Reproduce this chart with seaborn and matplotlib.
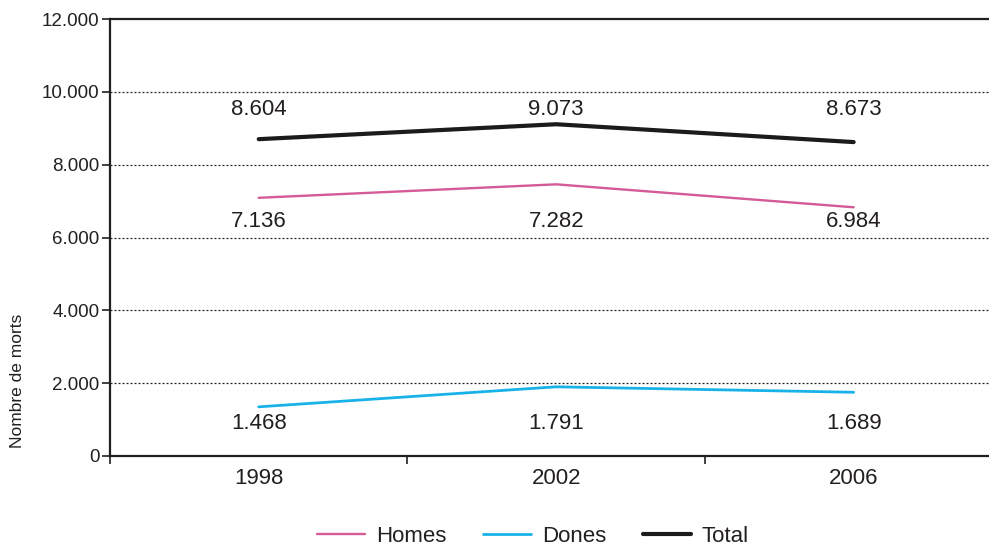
import matplotlib
matplotlib.use("Agg")
import matplotlib.pyplot as plt
from matplotlib.ticker import FuncFormatter, FixedLocator
import seaborn as sns
import pandas as pd

# ---- data ----
years = ["1998", "2002", "2006"]
series_names = ["Homes", "Dones", "Total"]
homes = [7090, 7460, 6830]
dones = [1350, 1900, 1750]
total = [8700, 9110, 8620]
homes_labels = ["7.136", "7.282", "6.984"]
dones_labels = ["1.468", "1.791", "1.689"]
total_labels = ["8.604", "9.073", "8.673"]
y_ticks = [0, 2000, 4000, 6000, 8000, 10000, 12000]

sns.set_theme(style="white")
plt.rcParams["font.family"] = ["Liberation Sans", "DejaVu Sans"]
ink = "#231f20"

idx = list(range(len(years)))
df = pd.DataFrame({
    "x": idx * 3,
    "value": homes + dones + total,
    "serie": [s for s in series_names for _ in years],
})

fig = plt.figure(figsize=(9.89, 5.47), dpi=100)
ax = fig.add_axes([110 / 989, 1 - 456 / 547, 1 - 110 / 989, (456 - 19) / 547])

styles = {
    "Homes": dict(color="#d45a98", lw=1.7),
    "Dones": dict(color="#19b2e8", lw=2.0),
    "Total": dict(color="#1c1a1a", lw=3.0),
}
for name in series_names:
    sub = df[df["serie"] == name]
    sns.lineplot(data=sub, x="x", y="value", ax=ax, color=styles[name]["color"],
                 linewidth=styles[name]["lw"], label=name, legend=False)

# value labels at fixed heights
label_rows = [(total_labels, 9520), (homes_labels, 6450), (dones_labels, 880)]
for labels, yh in label_rows:
    for i, t in enumerate(labels):
        ax.text(i, yh, t, ha="center", va="center", fontsize=16, color=ink)

ax.yaxis.set_major_locator(FixedLocator(y_ticks))
ax.yaxis.set_major_formatter(FuncFormatter(lambda v, p: f"{v:,.0f}".replace(",", ".")))
ax.set_xticks(idx)
ax.set_xticklabels(years)
ax.set_xticks([-0.5, 0.5, 1.5, 2.5], minor=True)
ax.set_ylim(0, 12000)
ax.set_xlim(-0.5, 2.455)
ax.tick_params(axis="x", which="major", length=0, pad=9, labelsize=16, labelcolor=ink, bottom=True)
ax.tick_params(axis="x", which="minor", length=6, width=1.2, color=ink, direction="out", bottom=True)
ax.tick_params(axis="y", which="major", length=6, width=1.2, color=ink, direction="out",
               pad=1.5, labelsize=13.5, labelcolor=ink, left=True)
ax.set_xlabel("")
ax.set_ylabel("")

for yv in y_ticks[1:-1]:
    ax.axhline(yv, color="#222222", lw=0.9, linestyle=(0, (1.6, 1.6)), zorder=0.5)

for side in ["left", "bottom", "top"]:
    ax.spines[side].set_visible(True)
    ax.spines[side].set_color(ink)
    ax.spines[side].set_linewidth(1.6)
ax.spines["right"].set_visible(False)

fig.text(18 / 989, 1 - 381 / 547, "Nombre de morts", rotation=90, ha="center", va="center",
         fontsize=12.5, color=ink)

handles, lbls = ax.get_legend_handles_labels()
leg = fig.legend(handles, lbls, loc="center", bbox_to_anchor=(0.539, 1 - 536 / 547), ncol=3,
                 frameon=False, fontsize=16, handlelength=2.15, handletextpad=0.5,
                 columnspacing=1.65, labelcolor=ink, borderpad=0.1, borderaxespad=0)

fig.savefig("out.png", dpi=100)
